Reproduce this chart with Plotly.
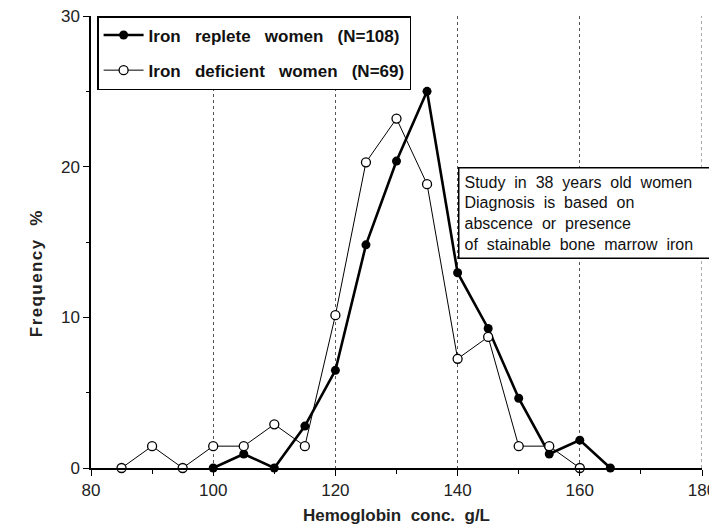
import plotly.graph_objects as go

# hemoglobin classes (g/L) and frequency (%)
hb_replete = [100, 105, 110, 115, 120, 125, 130, 135, 140, 145, 150, 155, 160, 165]
freq_replete = [0, 0.93, 0, 2.78, 6.48, 14.81, 20.37, 25.0, 12.96, 9.26, 4.63, 0.93, 1.85, 0]

hb_deficient = [85, 90, 95, 100, 105, 110, 115, 120, 125, 130, 135, 140, 145, 150, 155, 160]
freq_deficient = [0, 1.45, 0, 1.45, 1.45, 2.90, 1.45, 10.14, 20.29, 23.19, 18.84, 7.25, 8.70, 1.45, 1.45, 0]

sp = "\u00a0\u00a0 "
name_replete = "<b>" + sp.join(["Iron", "replete", "women", "(N=108)"]) + "</b>"
name_deficient = "<b>" + sp.join(["Iron", "deficient", "women", "(N=69)"]) + "</b>"
note_lines = ["Study in 38 years old women", "Diagnosis is based on",
              "abscence or presence", "of stainable bone marrow iron"]
note = "<br>".join(l.replace(" ", "\u00a0 ") for l in note_lines)

fig = go.Figure()

fig.add_trace(go.Scatter(
    x=hb_replete, y=freq_replete, name=name_replete, mode="lines+markers",
    line=dict(color="black", width=2.6),
    marker=dict(symbol="circle", size=9, color="black"),
    cliponaxis=False, legendgroup="a"
))
fig.add_trace(go.Scatter(
    x=hb_deficient, y=freq_deficient, name=name_deficient, mode="lines+markers",
    line=dict(color="black", width=1),
    marker=dict(symbol="circle", size=9, color="white", line=dict(color="black", width=1.3)),
    cliponaxis=False, legendgroup="b"
))

fig.update_xaxes(
    range=[80, 180], dtick=20, tick0=80, automargin=False,
    showline=True, linecolor="black", linewidth=1.5,
    ticks="outside", ticklen=6, tickcolor="black",
    minor=dict(dtick=10, ticks="outside", ticklen=4, tickcolor="black"),
    showgrid=True, gridcolor="#555555", griddash="dot", gridwidth=1,
    zeroline=False, ticklabeloverflow="allow",
    tickfont=dict(size=17, color="#222222", family="Liberation Sans, Arial"),
    title=dict(text="<b>Hemoglobin\u00a0 conc.\u00a0 g/L</b>", font=dict(size=17, color="#222222"), standoff=10),
)
fig.update_yaxes(
    range=[0, 30], dtick=10, automargin=False,
    showline=True, linecolor="black", linewidth=1.5,
    ticks="outside", ticklen=6, tickcolor="black",
    minor=dict(dtick=5, ticks="outside", ticklen=3, tickcolor="black"),
    showgrid=False, zeroline=False, ticklabeloverflow="allow",
    tickfont=dict(size=17, color="#222222", family="Liberation Sans, Arial"),
)

# y title as a rotated annotation (sits a little below the axis centre in the original)
fig.add_annotation(
    text="<b>F\u200ar\u200ae\u200aq\u200au\u200ae\u200an\u200ac\u200ay\u00a0 \u00a0%</b>",
    xref="paper", yref="paper", x=-0.108, y=0.43, textangle=-90,
    showarrow=False, font=dict(size=17, color="#222222"),
)

# dotted line at the right edge (180)
fig.add_vline(x=180, line=dict(color="#555555", width=1, dash="dot"))

fig.add_annotation(
    text=note, xref="paper", yref="y", x=0.601, y=20.0,
    xanchor="left", yanchor="top", align="left", showarrow=False,
    width=250,
    font=dict(size=16, color="#111111", family="Liberation Sans, Arial"),
    bordercolor="black", borderwidth=1.5, borderpad=5, bgcolor="white",
)

# the page adds an 8px body margin, so margins are trimmed by that amount
fig.update_layout(
    width=717, height=529,
    margin=dict(l=83, r=23, t=8, b=69),
    plot_bgcolor="white", paper_bgcolor="white",
    font=dict(family="Liberation Sans, Arial", color="#111111"),
    showlegend=True,
    legend=dict(
        x=0.01, y=1.0, xanchor="left", yanchor="top",
        bordercolor="black", borderwidth=1.5, bgcolor="white",
        font=dict(size=17, color="#111111"),
        traceorder="grouped", tracegroupgap=10, itemwidth=40,
    ),
)

fig.write_html("out.html")
